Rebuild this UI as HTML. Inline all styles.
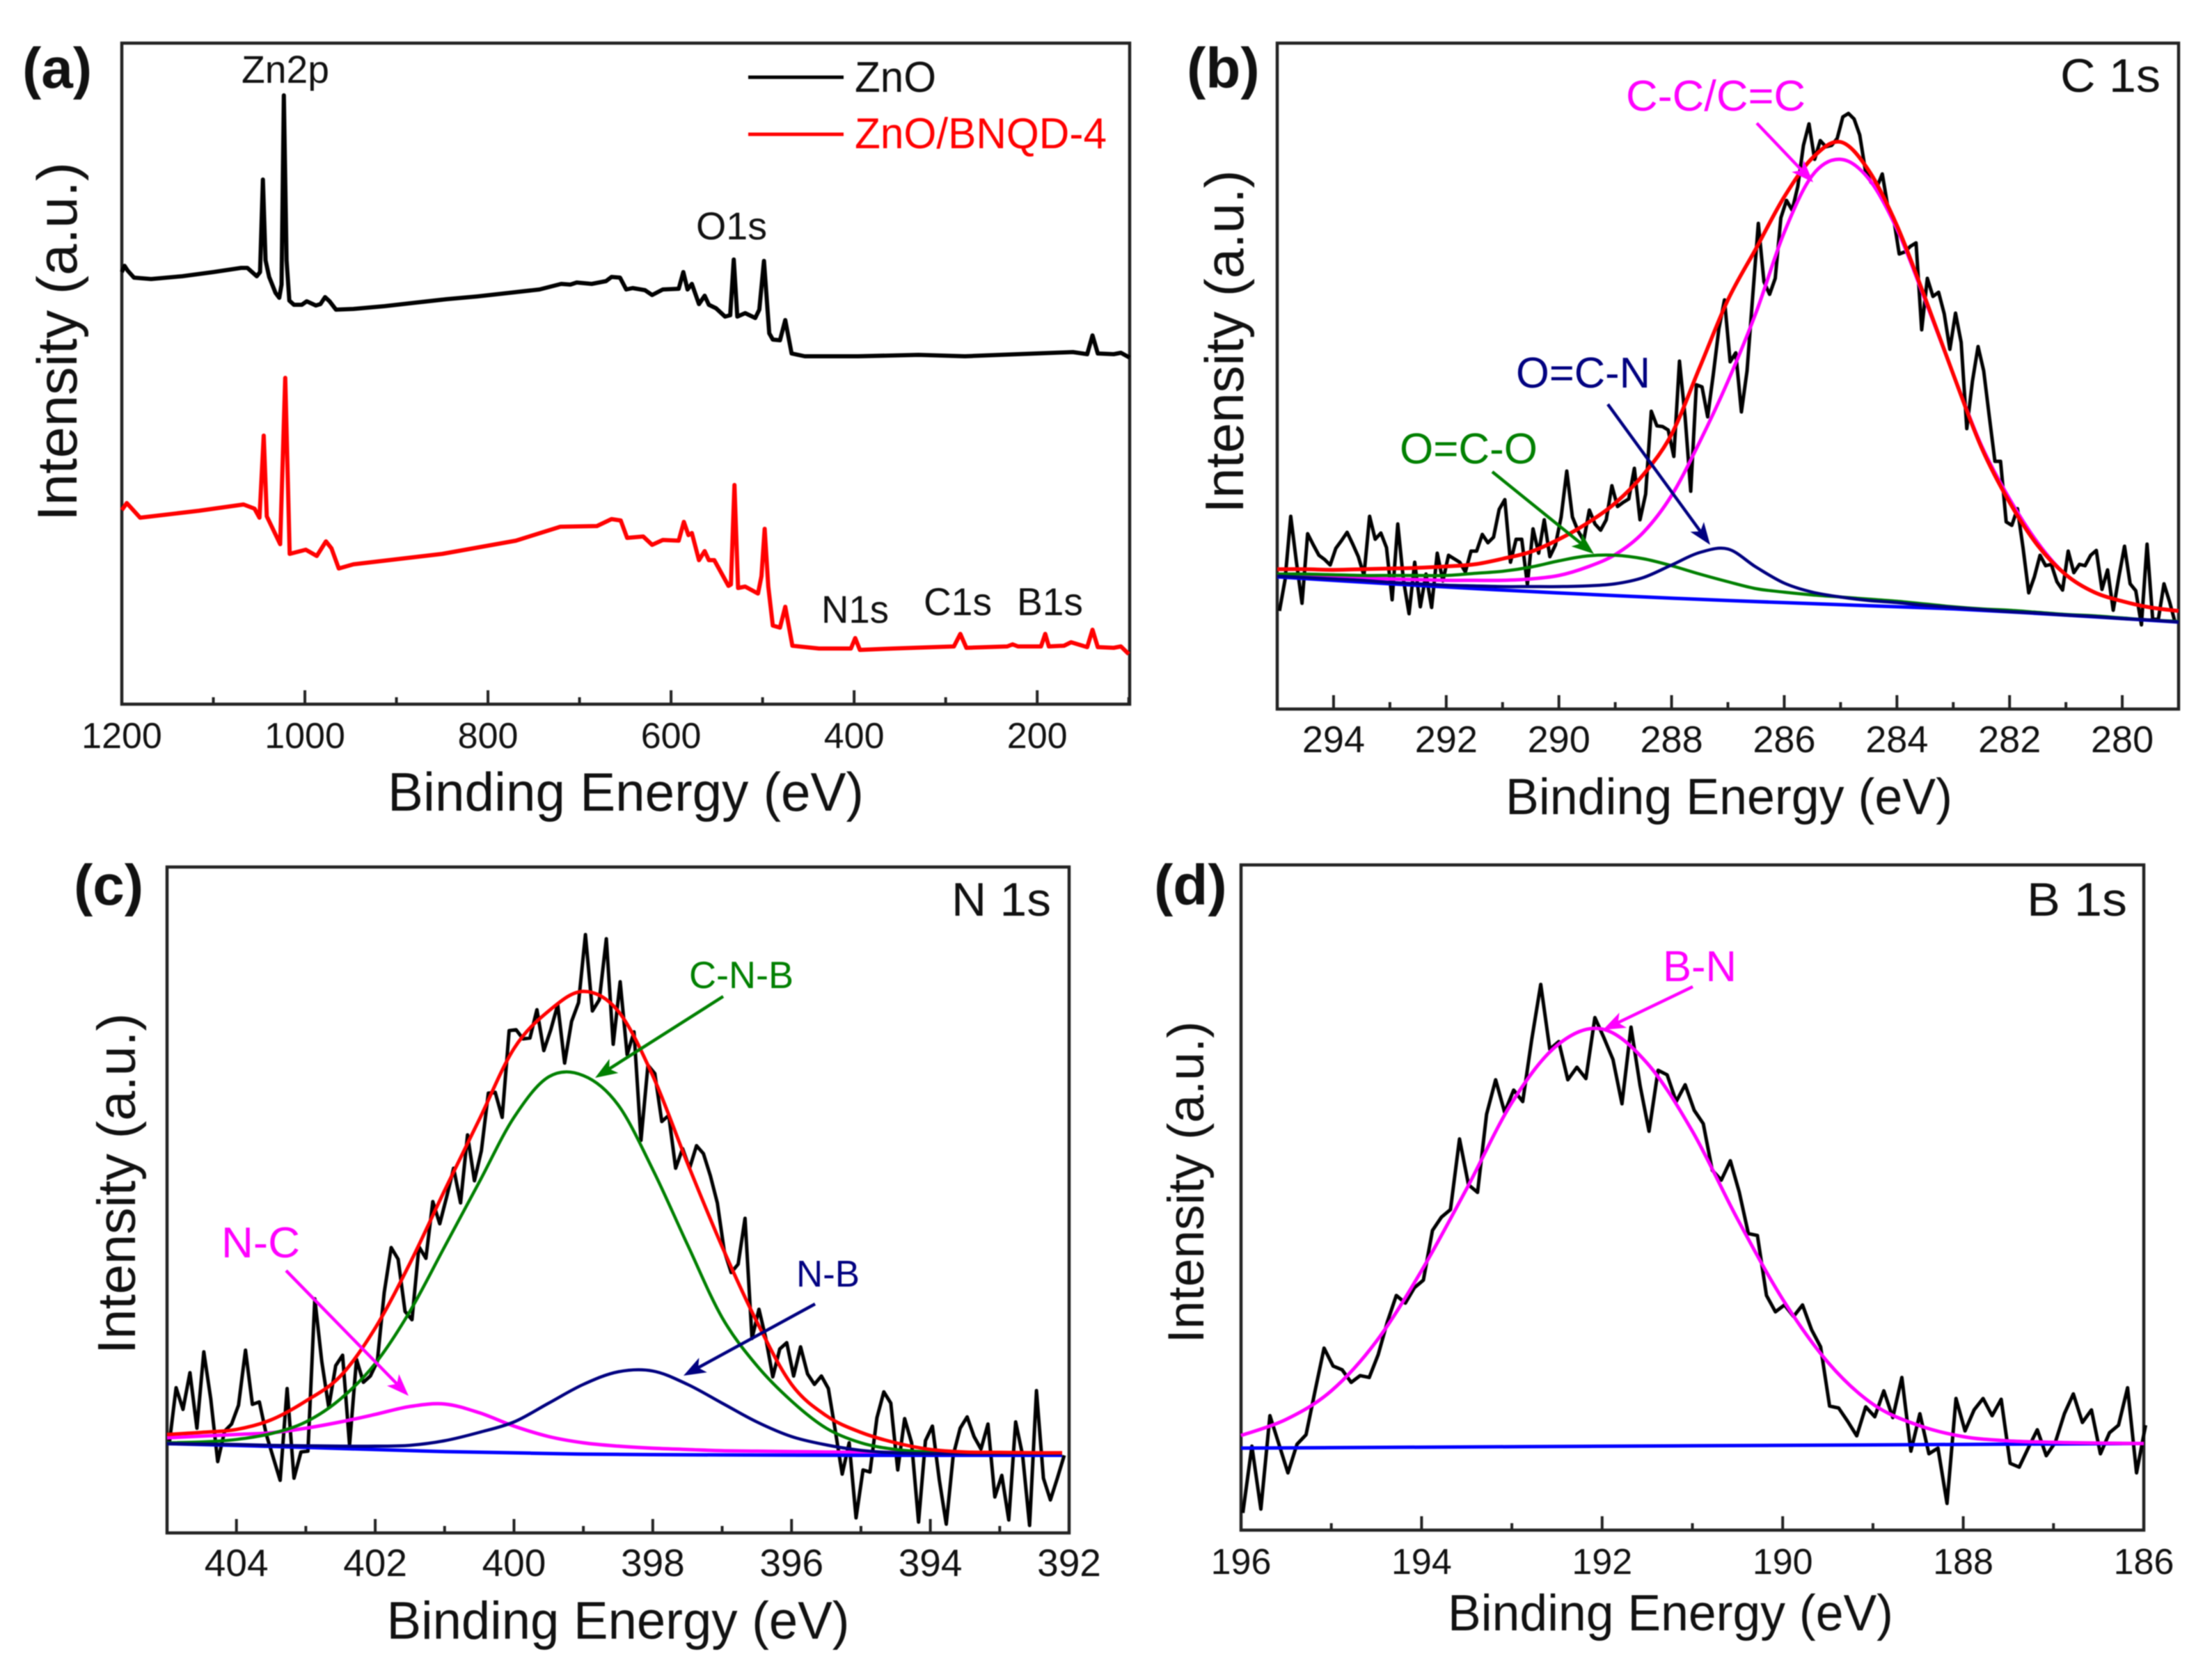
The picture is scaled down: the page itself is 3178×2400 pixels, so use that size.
<!DOCTYPE html>
<html>
<head>
<meta charset="utf-8">
<title>XPS spectra of ZnO and ZnO/BNQD-4</title>
<style>
html,body{margin:0;padding:0;background:#fff;}
svg{display:block;filter:blur(0.7px);}
text{font-family:"Liberation Sans",Arial,sans-serif;fill:#111;}
.tick{font-size:52px;text-anchor:middle;}
.title{text-anchor:middle;}
.letter{font-weight:bold;font-size:82px;}
</style>
</head>
<body>
<svg xmlns="http://www.w3.org/2000/svg" width="3178" height="2400" viewBox="0 0 3178 2400">
<rect x="0" y="0" width="3178" height="2400" fill="#fff"/>

<g id="panel-a">
  <text class="letter" x="32" y="126">(a)</text>
  <text class="title" x="899" y="1165" font-size="78" textLength="684" lengthAdjust="spacingAndGlyphs">Binding Energy (eV)</text>
  <text class="title" transform="translate(110 491) rotate(-90)" font-size="81" textLength="516" lengthAdjust="spacingAndGlyphs">Intensity (a.u.)</text>
  <text x="347" y="119" font-size="56" textLength="126" lengthAdjust="spacingAndGlyphs">Zn2p</text>
  <text x="1000" y="344" font-size="56" textLength="102" lengthAdjust="spacingAndGlyphs">O1s</text>
  <text x="1180" y="895" font-size="56" textLength="97" lengthAdjust="spacingAndGlyphs">N1s</text>
  <text x="1327" y="884" font-size="56" textLength="98" lengthAdjust="spacingAndGlyphs">C1s</text>
  <text x="1461" y="884" font-size="56" textLength="95" lengthAdjust="spacingAndGlyphs">B1s</text>
  <g>
    <line x1="1075" y1="111" x2="1212" y2="111" stroke="#000" stroke-width="5"/>
    <text x="1228" y="132" font-size="62" textLength="117" lengthAdjust="spacingAndGlyphs">ZnO</text>
    <line x1="1075" y1="193" x2="1212" y2="193" stroke="#f00" stroke-width="5"/>
    <text x="1228" y="213" font-size="62" textLength="362" lengthAdjust="spacingAndGlyphs" style="fill:#f00">ZnO/BNQD-4</text>
  </g>
</g>

<g id="panel-b">
  <text class="letter" x="1705" y="126">(b)</text>
  <text class="title" x="2484" y="1170" font-size="73" textLength="642" lengthAdjust="spacingAndGlyphs">Binding Energy (eV)</text>
  <text class="title" transform="translate(1786 491) rotate(-90)" font-size="78" textLength="493" lengthAdjust="spacingAndGlyphs">Intensity (a.u.)</text>
  <text x="2960" y="132" font-size="68" textLength="144" lengthAdjust="spacingAndGlyphs">C 1s</text>
  <text x="2336" y="159" font-size="62" textLength="258" lengthAdjust="spacingAndGlyphs" style="fill:#f0f">C-C/C=C</text>
  <text x="2178" y="557" font-size="62" textLength="193" lengthAdjust="spacingAndGlyphs" style="fill:#000080">O=C-N</text>
  <text x="2011" y="666" font-size="62" textLength="198" lengthAdjust="spacingAndGlyphs" style="fill:#008000">O=C-O</text>
</g>

<g id="panel-c">
  <text class="letter" x="106" y="1300">(c)</text>
  <text class="title" x="888" y="2355" font-size="76" textLength="665" lengthAdjust="spacingAndGlyphs">Binding Energy (eV)</text>
  <text class="title" transform="translate(194 1701) rotate(-90)" font-size="77" textLength="490" lengthAdjust="spacingAndGlyphs">Intensity (a.u.)</text>
  <text x="1367" y="1316" font-size="68" textLength="143" lengthAdjust="spacingAndGlyphs">N 1s</text>
  <text x="990" y="1420" font-size="55" textLength="150" lengthAdjust="spacingAndGlyphs" style="fill:#008000">C-N-B</text>
  <text x="318" y="1807" font-size="62" textLength="113" lengthAdjust="spacingAndGlyphs" style="fill:#f0f">N-C</text>
  <text x="1144" y="1849" font-size="54" textLength="91" lengthAdjust="spacingAndGlyphs" style="fill:#000080">N-B</text>
</g>

<g id="panel-d">
  <text class="letter" x="1658" y="1300">(d)</text>
  <text class="title" x="2400" y="2343" font-size="73" textLength="640" lengthAdjust="spacingAndGlyphs">Binding Energy (eV)</text>
  <text class="title" transform="translate(1729 1699) rotate(-90)" font-size="73" textLength="463" lengthAdjust="spacingAndGlyphs">Intensity (a.u.)</text>
  <text x="2912" y="1316" font-size="68" textLength="144" lengthAdjust="spacingAndGlyphs">B 1s</text>
  <text x="2389" y="1410" font-size="62" textLength="106" lengthAdjust="spacingAndGlyphs" style="fill:#f0f">B-N</text>
</g>
</svg>

<script>
// ---------- Panel (a): survey spectra ----------
const surveyZnoEnergy = [1200,1197,1193.5,1186.7,1168,1134,1100,1069.6,1062.8,1052.6,1049,1045.9,1043,1039,1032,1028,1025.5,1023,1020,1017,1012,1003.4,998,988,983,978,973,966,947,913,879.5,845.5,811.6,777.6,743.7,720,710,703,686.7,671,665,655.7,649,642,628.5,620.7,609,591.6,586.6,582,577.3,569.5,563.3,558.7,550.9,541,535.4,531.5,527.6,519,508,503.6,498.5,492.7,488.8,481,475.2,468.3,453.9,395.7,329.7,279,221,161,145.4,139.6,133.8,116.4,108.6,99];
const surveyZnoIntensity = [621,630,623,613,611,615,621,627,627,615,621,754,638,614,591,584,603,875,638,580,574,574,579,573,575,585,579,567,568,572,577,582,586,591,596,604,603,606,604,608,614,613,596,598,595,588,596,597,621,596,604,575,587,574,569,557,559,639,557,562,555,567,637,533,524,523,552,504,500,500,502,500,503,506,503,530,504,503,505,498];
const surveyBnqdEnergy = [1200,1194.5,1180,1115.6,1067,1055,1049.6,1045,1041.6,1027,1021.5,1016.6,999,987,977,971,963,947,850,769.5,721,681,665,655,648,630.4,620.7,609,591.6,586,581,577.3,569.5,563.3,558.7,552.8,537.3,534.6,530.7,526.8,519,505,501.2,497.7,493.8,488.8,481,475.2,467.5,438.4,403.5,398.8,393.7,356.9,291,284,277.4,232.7,226.9,221,195.9,191.2,187.3,170.7,163,145.4,139.6,133.8,116.4,108.6,100];
const surveyBnqdIntensity = [279,289,268,278,287,281,268,386,270,230,469,216,222,213,234,224,195,201,216,235,255,256,266,264,239,241,229,236,235,262,243,246,207,220,207,207,170,172,315,167,169,159,184,252,169,113,110,140,84,80,80,95,78,80,83,101,81,83,86,83,83,101,83,84,89,82,107,82,81,83,72];
const surveyMajorTicks = [1200,1000,800,600,400,200];
const surveyMinorTicks = [1100,900,700,500,300,100];

// ---------- Panel (b): C 1s ----------
const c1sScanStart = 294.96;
const c1sScanStep = 0.1;
const c1sRaw = [141,186,277,212,152,252,236,221,215,207,231,242,254,237,219,192,277,244,253,232,157,266,186,137,211,147,194,146,224,184,221,216,211,197,227,227,251,239,247,287,301,211,244,244,179,259,224,272,219,236,276,342,276,256,242,286,266,257,272,321,291,297,302,346,272,309,428,407,406,401,363,500,420,313,466,463,420,481,547,588,499,512,427,486,593,698,614,596,619,706,731,717,751,810,841,790,817,808,810,820,851,856,848,825,774,757,749,769,721,706,654,657,665,670,545,619,593,599,568,517,569,527,403,471,521,486,420,356,356,269,264,288,231,167,190,221,206,208,183,171,227,196,208,206,221,228,172,200,142,190,234,180,170,121,237,129,129,180,154,124];
const c1sFitEnergy = [295,294.5,294,293.5,293,292.5,292,291.5,291,290.5,290,289.5,289,288.5,288,287.5,287,286.5,286,285.5,285,284.5,284,283.5,283,282.5,282,281.5,281,280.5,280,279.5,279];
const c1sEnvelope = [201,201,200,201,202,203,205,208,216,226,244,267,296,337,395,491,588,662,736,792,815,774,695,591,481,376,297,235,193,168,155,146,141];
const c1sCC = [192,191,189,188,187,186,185,185,185,187,192,204,222,254,307,384,471,570,685,767,790,762,690,588,481,379,302,239,193,168,155,146,141];
const c1sOCO = [194,194,193,192,192,192,192,195,198,204,213,220,221,216,206,194,183,173,168,164,161,158,155,151,147,144,142,139,136,134,131,128,126];
const c1sOCN = [191,189,187,185,182,180,178,177,176,176,176,177,180,189,207,225,230,204,181,168,161,156,153,149,146,143,140,138,135,133,130,128,125];
const c1sBaseEnergy = [295,293,291,289,287,285,283,281,279];
const c1sBaseline = [190,180,171,163,156,150,144,135,125];
const c1sMajorTicks = [294,292,290,288,286,284,282,280];
const c1sMinorTicks = [293,291,289,287,285,283,281,279];

// ---------- Panel (c): N 1s ----------
const n1sScanStart = 404.97;
const n1sScanStep = 0.1;
const n1sRaw = [211,348,296,384,251,434,321,171,244,261,306,438,308,314,236,181,126,346,131,194,196,561,411,301,401,426,211,416,361,376,411,576,684,656,531,511,686,658,794,741,806,874,791,954,844,916,1054,1056,996,1204,1206,1184,1186,1254,1156,1206,1266,1126,1226,1271,1434,1251,1278,1424,1171,1321,1146,1201,941,1121,1101,986,1001,874,921,874,928,909,856,791,676,624,644,754,466,536,466,374,441,456,376,446,381,356,376,346,246,141,216,36,151,146,276,338,311,151,274,216,26,221,256,126,21,186,251,278,231,201,261,86,138,31,266,186,18,341,131,79,131,186];
const n1sFitEnergy = [405,404.5,404,403.5,403,402.5,402,401.5,401,400.5,400,399.5,399,398.5,398,397.5,397,396.5,396,395.5,395,394.5,394,393.5,393,392.5,392.1];
const n1sEnvelope = [236,241,248,271,316,376,491,646,821,991,1161,1251,1298,1251,1096,886,686,506,356,281,241,216,200,194,193,192,192];
const n1sCNB = [216,218,224,238,266,321,406,531,686,841,996,1093,1096,1026,871,691,516,401,316,251,216,200,194,192,191,191,191];
const n1sNC = [228,232,236,240,251,266,284,303,309,288,256,231,216,208,203,200,197,196,195,194,193,193,192,192,192,192,192];
const n1sNB = [214,213,212,210,209,208,208,210,221,241,266,311,356,386,388,356,311,266,231,211,198,192,190,190,190,190,190];
const n1sBaseEnergy = [405,403,401,399,397,395,393,392.1];
const n1sBaseline = [214,205,195,189,187,186,186,186];
const n1sMajorTicks = [404,402,400,398,396,394,392];
const n1sMinorTicks = [405,403,401,399,397,395,393];

// ---------- Panel (d): B 1s ----------
const b1sScanStart = 195.98;
const b1sScanStep = 0.1;
const b1sRaw = [45,220,55,300,225,150,225,250,365,477,430,420,387,405,400,460,545,615,595,635,655,785,820,840,1025,905,885,1090,1180,1095,1153,1123,1285,1430,1260,1280,1180,1213,1183,1343,1290,1233,1117,1318,1165,1045,1205,1193,1123,1167,1100,1065,943,917,968,885,777,772,615,572,590,560,590,525,480,325,320,285,247,323,297,365,295,400,207,305,200,215,70,345,260,315,345,300,343,175,165,215,263,195,230,305,357,282,315,200,255,275,373,150,275];
const b1sFitEnergy = [196,195.5,195,194.5,194,193.5,193,192.5,192,191.5,191,190.5,190,189.5,189,188.5,188,187.5,187,186.5,186];
const b1sBN = [248,290,365,495,680,895,1120,1270,1313,1223,1045,815,605,440,330,275,245,234,230,228,227];
const b1sBaseEnergy = [196,191,186];
const b1sBaseline = [215,221,227];
const b1sMajorTicks = [196,194,192,190,188,186];
const b1sMinorTicks = [195,193,191,189,187];

const SVGNS = 'http://www.w3.org/2000/svg';

function linearScale(domain, range) {
  return function (v) {
    return range[0] + (v - domain[0]) / (domain[1] - domain[0]) * (range[1] - range[0]);
  };
}

function makeEl(tag, parent, attrs) {
  const el = document.createElementNS(SVGNS, tag);
  for (const k in attrs) el.setAttribute(k, attrs[k]);
  parent.appendChild(el);
  return el;
}

function polyPath(xs, ys, xScale, yScale) {
  let d = '';
  for (let i = 0; i < ys.length; i++) {
    d += (i ? 'L' : 'M') + xScale(xs[i]).toFixed(1) + ' ' + yScale(ys[i]).toFixed(1);
  }
  return d;
}

function smoothPath(xs, ys, xScale, yScale) {
  const p = xs.map(function (x, i) { return [xScale(x), yScale(ys[i])]; });
  let d = 'M' + p[0][0].toFixed(1) + ' ' + p[0][1].toFixed(1);
  for (let i = 0; i < p.length - 1; i++) {
    const a = p[Math.max(i - 1, 0)], b = p[i], c = p[i + 1], e = p[Math.min(i + 2, p.length - 1)];
    const c1x = b[0] + (c[0] - a[0]) / 6, c1y = b[1] + (c[1] - a[1]) / 6;
    const c2x = c[0] - (e[0] - b[0]) / 6, c2y = c[1] - (e[1] - b[1]) / 6;
    d += 'C' + c1x.toFixed(1) + ' ' + c1y.toFixed(1) + ' ' + c2x.toFixed(1) + ' ' + c2y.toFixed(1) + ' ' + c[0].toFixed(1) + ' ' + c[1].toFixed(1);
  }
  return d;
}

function scanEnergies(start, step, n) {
  const out = [];
  for (let i = 0; i < n; i++) out.push(start - step * i);
  return out;
}

function drawFrame(group, box) {
  const frame = makeEl('rect', group, {x: box.x0, y: box.y0, width: box.x1 - box.x0, height: box.y1 - box.y0, fill: 'none', stroke: '#222', 'stroke-width': 4.5});
  
  
}

function drawTicks(group, box, xScale, majors, minors, labelY, fontSize) {
  majors.forEach(function (v) {
    const t = makeEl('line', group, {x1: xScale(v), x2: xScale(v), y1: box.y1, y2: box.y1 - 20, stroke: '#222', 'stroke-width': 4});
    
    
    const lab = makeEl('text', group, {x: xScale(v), y: labelY, 'font-size': fontSize, 'text-anchor': 'middle'});
    lab.textContent = String(v);
    
    
  });
  minors.forEach(function (v) {
    const t = makeEl('line', group, {x1: xScale(v), x2: xScale(v), y1: box.y1, y2: box.y1 - 10, stroke: '#222', 'stroke-width': 4});
    
    
  });
}

function drawRaw(group, xs, ys, xScale, yScale, color, width) {
  const line = makeEl('path', group, {d: polyPath(xs, ys, xScale, yScale), fill: 'none', stroke: color, 'stroke-width': width, 'stroke-linejoin': 'round'});
  
  
}

function drawFit(group, xs, ys, xScale, yScale, color, width) {
  const line = makeEl('path', group, {d: smoothPath(xs, ys, xScale, yScale), fill: 'none', stroke: color, 'stroke-width': width, 'stroke-linejoin': 'round'});
  
  
}

function drawArrow(group, x1, y1, x2, y2, color) {
  const dx = x2 - x1, dy = y2 - y1, len = Math.sqrt(dx * dx + dy * dy);
  const ux = dx / len, uy = dy / len, nx = -uy, ny = ux;
  const hl = 32, hw = 12, notch = 24;
  const line = makeEl('line', group, {x1: x1, y1: y1, x2: x2 - ux * notch, y2: y2 - uy * notch, stroke: color, 'stroke-width': 4.5});
  
  
  const pts = [
    [x2, y2],
    [x2 - ux * hl + nx * hw, y2 - uy * hl + ny * hw],
    [x2 - ux * notch, y2 - uy * notch],
    [x2 - ux * hl - nx * hw, y2 - uy * hl - ny * hw]
  ].map(function (p) { return p[0].toFixed(1) + ',' + p[1].toFixed(1); }).join(' ');
  const head = makeEl('polygon', group, {points: pts, fill: color});
  
  
}

// Panel (a)
(function () {
  const g = document.getElementById('panel-a');
  const box = {x0: 175, x1: 1623, y0: 62, y1: 1012};
  const x = linearScale([1200, 99], [box.x0, box.x1]);
  const y = linearScale([0, 950], [box.y1, box.y0]);
  drawFrame(g, box);
  drawTicks(g, box, x, surveyMajorTicks, surveyMinorTicks, 1075, 52);
  drawRaw(g, surveyZnoEnergy, surveyZnoIntensity, x, y, '#000', 6);
  drawRaw(g, surveyBnqdEnergy, surveyBnqdIntensity, x, y, '#f00', 6);
})();

// Panel (b)
(function () {
  const g = document.getElementById('panel-b');
  const box = {x0: 1835, x1: 3130, y0: 62, y1: 1019};
  const x = linearScale([295, 279], [box.x0, box.x1]);
  const y = linearScale([0, 957], [box.y1, box.y0]);
  drawFrame(g, box);
  drawTicks(g, box, x, c1sMajorTicks, c1sMinorTicks, 1081, 54);
  drawRaw(g, scanEnergies(c1sScanStart, c1sScanStep, c1sRaw.length), c1sRaw, x, y, '#000', 5);
  drawFit(g, c1sFitEnergy, c1sCC, x, y, '#f0f', 5);
  drawFit(g, c1sFitEnergy, c1sOCO, x, y, '#008000', 4.5);
  drawFit(g, c1sBaseEnergy, c1sBaseline, x, y, '#00f', 5);
  drawFit(g, c1sFitEnergy, c1sOCN, x, y, '#000080', 4.5);
  drawFit(g, c1sFitEnergy, c1sEnvelope, x, y, '#f00', 5.5);
  drawArrow(g, 2524, 177, 2605, 262, '#f0f');
  drawArrow(g, 2310, 581, 2457, 783, '#000080');
  drawArrow(g, 2144, 678, 2290, 796, '#008000');
})();

// Panel (c)
(function () {
  const g = document.getElementById('panel-c');
  const box = {x0: 240, x1: 1536, y0: 1246, y1: 2203};
  const x = linearScale([405, 392], [box.x0, box.x1]);
  const y = linearScale([0, 1596], [box.y1, box.y0]);
  drawFrame(g, box);
  drawTicks(g, box, x, n1sMajorTicks, n1sMinorTicks, 2265, 55);
  drawRaw(g, scanEnergies(n1sScanStart, n1sScanStep, n1sRaw.length), n1sRaw, x, y, '#000', 5);
  drawFit(g, n1sFitEnergy, n1sNC, x, y, '#f0f', 5);
  drawFit(g, n1sFitEnergy, n1sCNB, x, y, '#008000', 4.5);
  drawFit(g, n1sBaseEnergy, n1sBaseline, x, y, '#00f', 5);
  drawFit(g, n1sFitEnergy, n1sNB, x, y, '#000080', 4.5);
  drawFit(g, n1sFitEnergy, n1sEnvelope, x, y, '#f00', 5);
  drawArrow(g, 1039, 1432, 855, 1549, '#008000');
  drawArrow(g, 411, 1826, 587, 2006, '#f0f');
  drawArrow(g, 1171, 1874, 982, 1977, '#000080');
})();

// Panel (d)
(function () {
  const g = document.getElementById('panel-d');
  const box = {x0: 1783, x1: 3080, y0: 1243, y1: 2199};
  const x = linearScale([196, 186], [box.x0, box.x1]);
  const y = linearScale([0, 1743], [box.y1, box.y0]);
  drawFrame(g, box);
  drawTicks(g, box, x, b1sMajorTicks, b1sMinorTicks, 2262, 52);
  drawRaw(g, scanEnergies(b1sScanStart, b1sScanStep, b1sRaw.length), b1sRaw, x, y, '#000', 5);
  drawFit(g, b1sBaseEnergy, b1sBaseline, x, y, '#00f', 5);
  drawFit(g, b1sFitEnergy, b1sBN, x, y, '#f0f', 5);
  drawArrow(g, 2432, 1418, 2303, 1480, '#f0f');
})();
</script>
</body>
</html>
